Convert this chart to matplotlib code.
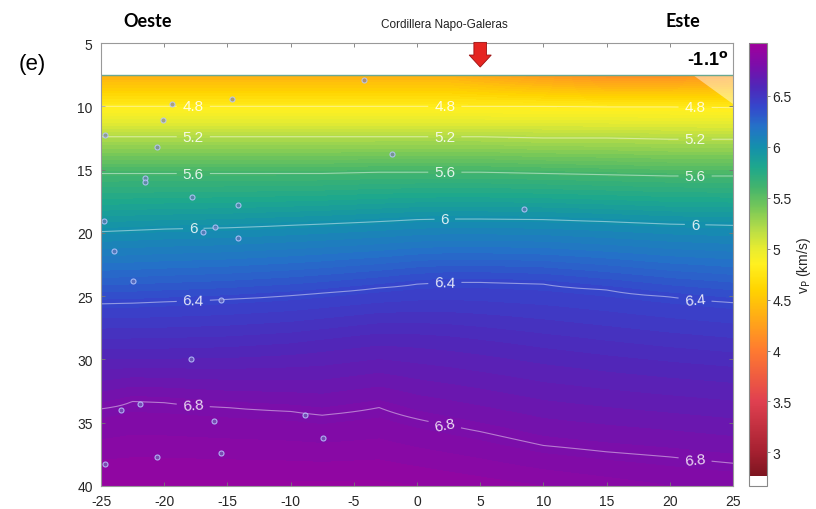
import numpy as np
import matplotlib
matplotlib.use('Agg')
import matplotlib.pyplot as plt
from matplotlib.colors import LinearSegmentedColormap, Normalize
from matplotlib.cm import ScalarMappable
from matplotlib.patches import FancyArrow, Polygon

plt.rcParams['font.family'] = ['Liberation Sans', 'DejaVu Sans']
plt.rcParams['axes.unicode_minus'] = False

# profile distance (km) of the model columns
X_NODES = [-25, -22.5, -20, -15, -10, -7.5, -3, 0, 2.5, 5, 10, 15, 20, 25]

# top of the model (km) and Vp at top / bottom of each column
TOP_DEPTH = 7.55
BOTTOM_DEPTH = 40.0
TOP_VP = [4.35, 4.35, 4.35, 4.35, 4.35, 4.35, 4.35, 4.35, 4.35, 4.3, 4.2, 4.12, 4.12, 4.2]
BOTTOM_VP = [6.95, 6.95, 6.95, 6.95, 6.95, 6.95, 6.95, 6.94, 6.93, 6.92, 6.9, 6.88, 6.86, 6.85]

# depth (km) of each Vp isoline along the profile
DEPTH_48 = [10.0, 10.0, 10.0, 10.0, 10.0, 10.0, 10.0, 10.0, 10.0, 10.0, 10.0, 10.05, 10.05, 10.1]
DEPTH_52 = [12.4, 12.4, 12.4, 12.4, 12.4, 12.4, 12.4, 12.4, 12.4, 12.4, 12.5, 12.5, 12.6, 12.6]
DEPTH_56 = [15.3, 15.3, 15.3, 15.3, 15.3, 15.3, 15.2, 15.2, 15.2, 15.2, 15.3, 15.4, 15.5, 15.5]
DEPTH_60 = [19.9, 19.8, 19.7, 19.6, 19.4, 19.3, 19.1, 18.95, 18.9, 18.9, 18.95, 19.1, 19.3, 19.4]
DEPTH_64 = [25.6, 25.55, 25.45, 25.25, 24.95, 24.75, 24.35, 24.05, 23.9, 23.9, 24.05, 24.5, 25.05, 25.5]
DEPTH_66 = [29.6, 29.6, 29.6, 29.5, 29.2, 28.9, 28.4, 28.5, 28.7, 29.0, 29.7, 30.3, 30.8, 31.2]
DEPTH_68 = [33.9, 33.3, 33.4, 33.8, 34.1, 34.4, 33.8, 34.7, 35.2, 35.7, 36.8, 37.3, 37.7, 38.2]

ISO_VP = [4.8, 5.2, 5.6, 6.0, 6.4, 6.6, 6.8]
ISO_DEPTHS = [DEPTH_48, DEPTH_52, DEPTH_56, DEPTH_60, DEPTH_64, DEPTH_66, DEPTH_68]
LINE_LEVELS = [4.8, 5.2, 5.6, 6.0, 6.4, 6.8]

# hypocentres (distance km, depth km)
EQ_X = [-19.4, -14.6, -20.1, -24.7, -4.2, -2.0, -20.6, -21.5, -21.5, -17.8, -14.2, -24.8, -16.0, -16.9,
        -14.2, -24.0, -22.5, -15.5, 8.5, -17.9, -21.9, -23.4, -16.1, -15.5, -20.6, -24.7, -8.9, -7.4]
EQ_Z = [9.8, 9.4, 11.1, 12.3, 7.9, 13.8, 13.2, 15.7, 16.0, 17.2, 17.8, 19.1, 19.5, 19.9,
        20.4, 21.4, 23.8, 25.3, 18.1, 30.0, 33.5, 34.0, 34.9, 37.4, 37.7, 38.3, 34.4, 36.2]

# unresolved corner of the model
CORNER = [(21.8, 7.55), (25, 7.55), (25, 9.8)]

# colour table for Vp
VMIN, VMAX = 2.67, 7.02
CMAP_STOPS = [(2.67, '#ffffff'), (2.77, '#ffffff'), (2.771, '#7d1520'), (3.0, '#a52030'),
              (3.5, '#e04050'), (4.0, '#ff7a30'), (4.3, '#ffa818'), (4.6, '#ffd400'),
              (4.85, '#fff020'), (5.0, '#e8ec30'), (5.2, '#b4dc48'), (5.4, '#78c858'),
              (5.6, '#44b46c'), (5.8, '#1ea88c'), (6.0, '#1490ac'), (6.2, '#2472c8'),
              (6.4, '#3546cc'), (6.6, '#5026b8'), (6.8, '#7a0eaa'), (7.02, '#a0009c')]

cmap = LinearSegmentedColormap.from_list(
    'vp', [((v - VMIN) / (VMAX - VMIN), c) for v, c in CMAP_STOPS], N=512)
norm = Normalize(VMIN, VMAX)

# build the Vp grid column by column from the isoline depths
z = np.linspace(TOP_DEPTH, BOTTOM_DEPTH, 300)
vp = np.empty((len(z), len(X_NODES)))
for j in range(len(X_NODES)):
    zs = [TOP_DEPTH] + [d[j] for d in ISO_DEPTHS] + [BOTTOM_DEPTH]
    vs = [TOP_VP[j]] + ISO_VP + [BOTTOM_VP[j]]
    vp[:, j] = np.interp(z, zs, vs)

fig = plt.figure(figsize=(8.16, 5.10), dpi=100)
ax = fig.add_axes([0.1238, 0.0451, 0.7745, 0.8686])
cax = fig.add_axes([0.9179, 0.0451, 0.0221, 0.8686])

ax.contourf(X_NODES, z, vp, levels=np.arange(2.7, 7.03, 0.04), cmap=cmap, norm=norm)
cs = ax.contour(X_NODES, z, vp, levels=LINE_LEVELS, colors='white', linewidths=0.8, alpha=0.45)
label_pos = []
for lv, d in zip(ISO_VP, ISO_DEPTHS):
    if lv in LINE_LEVELS:
        for xl in (-17.7, 2.2, 22.0):
            label_pos.append((xl, np.interp(xl, X_NODES, d)))
labels = ax.clabel(cs, fmt='%g', fontsize=11, colors='white', inline=True, inline_spacing=6,
                   manual=label_pos)
for t in labels:
    t.set_alpha(0.85)

ax.axhline(TOP_DEPTH, color='#6aa890', lw=1.0)
ax.add_patch(Polygon(CORNER, closed=True, fc='white', ec='none', alpha=0.45))

ax.plot(EQ_X, EQ_Z, 'o', ms=3.6, mfc=(0.45, 0.45, 0.72, 0.6), mec=(0.72, 0.78, 1.0, 0.85), mew=0.8)

ax.add_patch(FancyArrow(5, 4.95, 0, 1.95, width=1.0, head_width=1.75, head_length=0.95,
                        length_includes_head=True, fc='#e52521', ec='#9b1010', lw=0.6,
                        clip_on=False, zorder=5))

ax.set_xlim(-25, 25)
ax.set_ylim(40, 5)
ax.set_xticks(np.arange(-25, 26, 5))
ax.set_yticks(np.arange(5, 41, 5))
ax.tick_params(direction='in', top=True, right=True, length=3, width=0.6, color='#777777',
               labelsize=10, labelcolor='#262626', pad=6)
for s in ax.spines.values():
    s.set_color('#999999')
    s.set_linewidth(0.8)

ax.text(24.6, 6.3, r'-1.1$^\mathbf{o}$', ha='right', va='center', fontsize=13, fontweight='bold')

cb = fig.colorbar(ScalarMappable(norm=norm, cmap=cmap), cax=cax, ticks=np.arange(3, 6.6, 0.5))
cb.set_ticklabels(['%g' % t for t in np.arange(3, 6.6, 0.5)])
cb.outline.set_edgecolor('#888888')
cb.outline.set_linewidth(0.8)
cb.ax.tick_params(labelsize=10, length=2, width=0.6, color='#777777', labelcolor='#262626', pad=2)
cb.set_label(r'v$_\mathrm{P}$ (km/s)', fontsize=10, color='#262626', labelpad=2)

fig.text(0.040, 0.873, '(e)', ha='center', va='center', fontsize=16)
fig.text(0.181, 0.958, 'Oeste', ha='center', va='center', fontsize=13, fontweight='bold',
         family='Lato')
fig.text(0.837, 0.957, 'Este', ha='center', va='center', fontsize=13, fontweight='bold',
         family='Lato')
fig.text(0.545, 0.951, 'Cordillera Napo-Galeras', ha='center', va='center', fontsize=8.5,
         color='#222222')

fig.savefig('out.png', dpi=100)
